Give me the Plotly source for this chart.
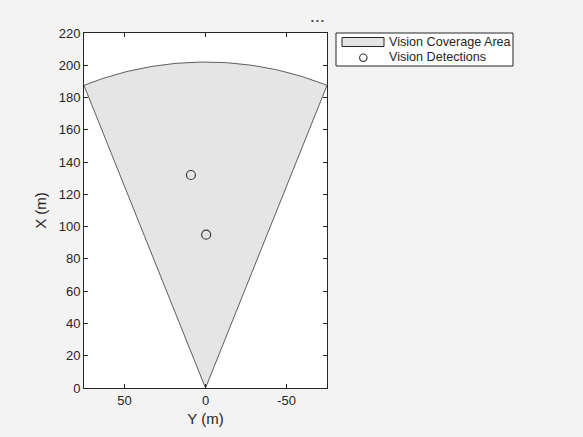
import numpy as np
import plotly.graph_objects as go

# sensor coverage (from the picture)
coverage_range = 202      # m
coverage_fov = 43.6       # deg, full angle
# detections
det_y = [9, -0.4]
det_x = [132, 95]

x_ticks = [50, 0, -50]
x_tick_text = ['50', '0', '-50']
y_ticks = list(range(0, 221, 20))

W, H = 583, 437
L, R, T, B = 84, 327, 33, 388   # plot box in pixels


def px(xp, yp):
    # pixel position -> paper coords
    return (xp - L) / (R - L), (B - yp) / (B - T)


# coverage sector polygon
half = np.deg2rad(coverage_fov / 2)
ang = np.linspace(-half, half, 60)
sec_y = np.concatenate([[0], coverage_range * np.sin(ang), [0]])
sec_x = np.concatenate([[0], coverage_range * np.cos(ang), [0]])

fig = go.Figure()
fig.add_trace(go.Scatter(x=sec_y, y=sec_x, mode='lines', fill='toself',
                         fillcolor='#e5e5e5', line=dict(color='#5e5e5e', width=1),
                         name='Vision Coverage Area', hoverinfo='skip'))
fig.add_trace(go.Scatter(x=det_y, y=det_x, mode='markers',
                         marker=dict(symbol='circle-open', size=9, color='#3a3a3a',
                                     line=dict(width=1.2)),
                         name='Vision Detections'))

axis_style = dict(showgrid=False, zeroline=False, showline=True, mirror='ticks',
                  linecolor='#262626', linewidth=1, ticks='inside', ticklen=4,
                  tickcolor='#262626', tickfont=dict(size=13, color='#262626'))

fig.update_xaxes(range=[75, -75], tickvals=x_ticks, ticktext=x_tick_text,
                 title=dict(text='Y (m)', standoff=6, font=dict(size=15, color='#262626')),
                 **axis_style)
fig.update_yaxes(range=[0, 220], tickvals=y_ticks,
                 title=dict(text='X (m)', standoff=8, font=dict(size=15, color='#262626')),
                 **axis_style)

# hand-drawn legend (MATLAB style, compact rows)
bx0, by1 = px(336, 33)
bx1, by0 = px(513, 66)
px0, py1 = px(342, 37.5)
px1, py0 = px(384, 46.5)
cx0, cy1 = px(359.6, 54.0)
cx1, cy0 = px(367.0, 61.4)
fig.add_shape(type='rect', xref='paper', yref='paper', x0=bx0, x1=bx1, y0=by0, y1=by1,
              line=dict(color='#262626', width=1), fillcolor='white', layer='above')
fig.add_shape(type='rect', xref='paper', yref='paper', x0=px0, x1=px1, y0=py0, y1=py1,
              line=dict(color='#262626', width=1), fillcolor='#e5e5e5', layer='above')
fig.add_shape(type='circle', xref='paper', yref='paper', x0=cx0, x1=cx1, y0=cy0, y1=cy1,
              line=dict(color='#3a3a3a', width=1.2), fillcolor='rgba(0,0,0,0)', layer='above')
tx, ty1 = px(387, 42)
_, ty2 = px(387, 57)
for name, ty in [('Vision Coverage Area', ty1), ('Vision Detections', ty2)]:
    fig.add_annotation(text=name, x=tx, y=ty, xref='paper', yref='paper',
                       xanchor='left', yanchor='middle', showarrow=False,
                       font=dict(size=12.6, color='#262626'))

dx, dy = px(317, 20)
fig.add_annotation(text='\u2022 \u2022 \u2022', x=dx, y=dy, xref='paper', yref='paper',
                   xanchor='center', yanchor='middle', showarrow=False,
                   font=dict(size=8, color='#404040'))

fig.update_layout(
    width=W, height=H,
    margin=dict(l=L, r=W - R, t=T, b=H - B),
    paper_bgcolor='#f3f3f3', plot_bgcolor='white',
    font=dict(family='Liberation Sans, Arial', size=12, color='#262626'),
    showlegend=False,
)

fig.write_html("out.html", config={'displayModeBar': False},
               post_script="document.body.style.margin='0';document.body.style.background='#f3f3f3';")
